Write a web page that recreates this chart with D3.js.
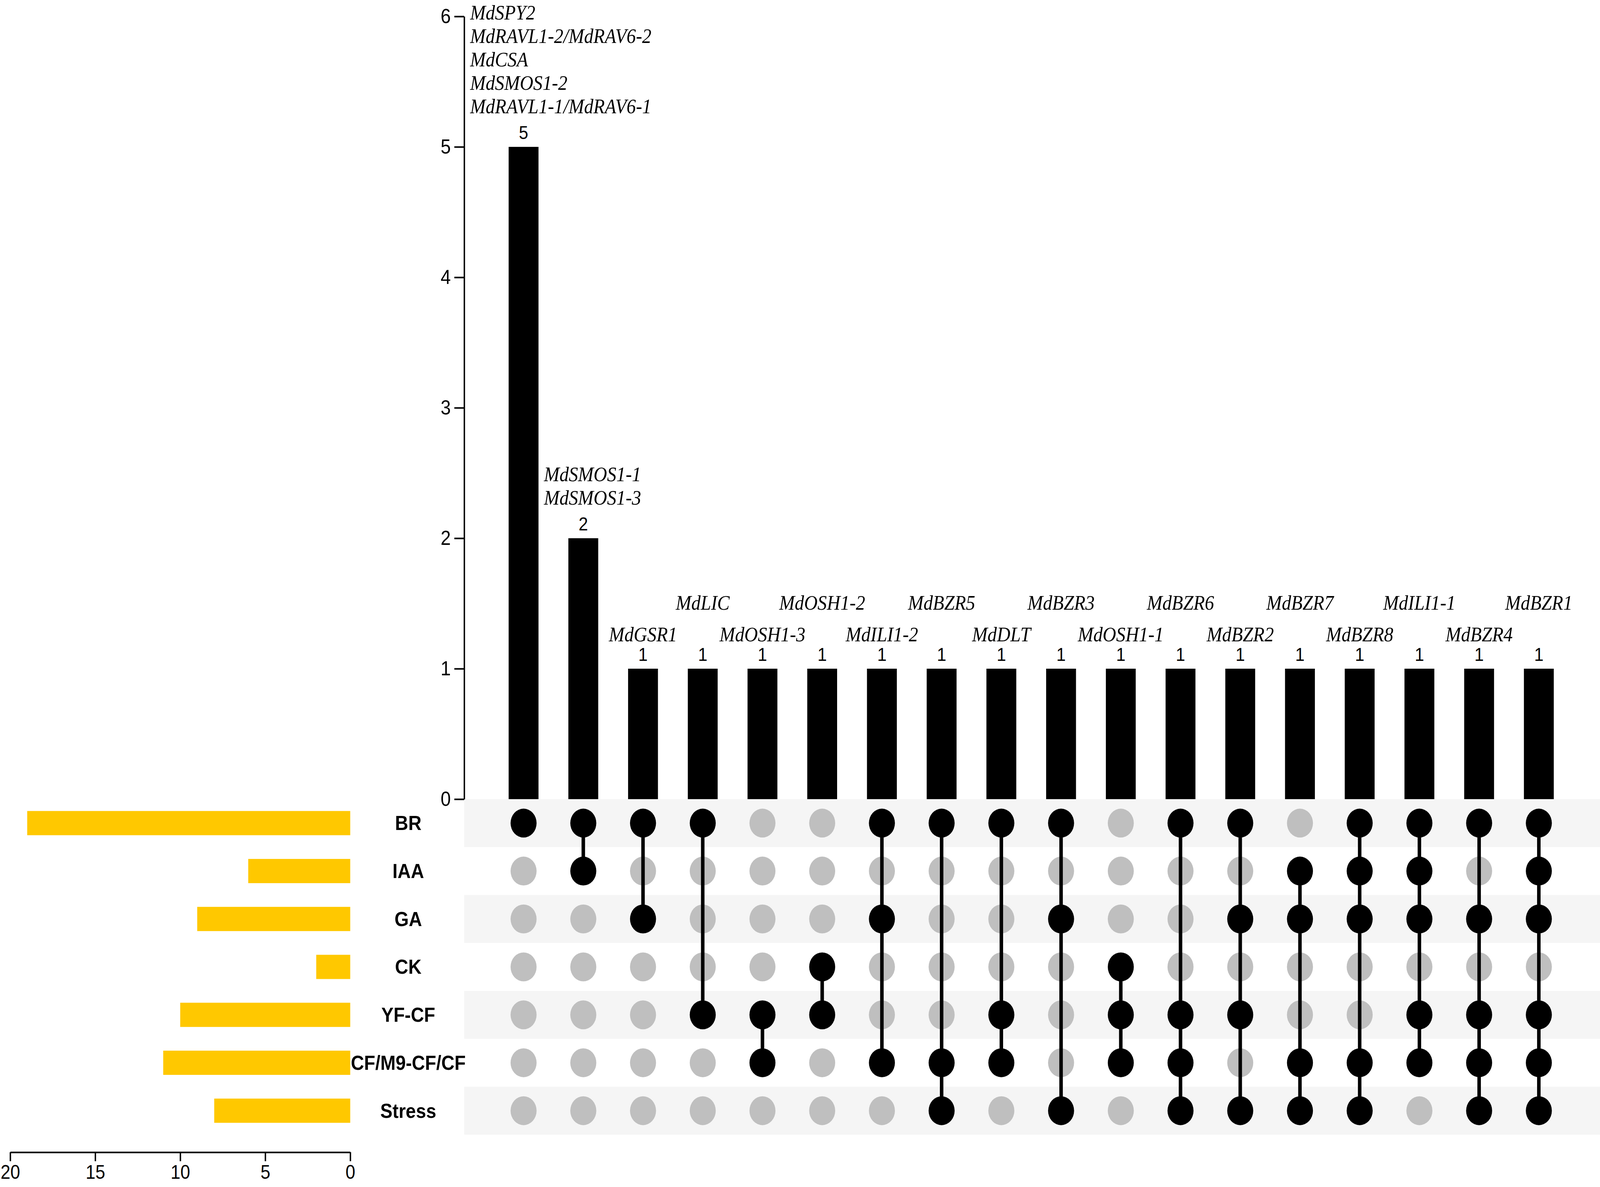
<!DOCTYPE html>
<html>
<head>
<meta charset="utf-8">
<script src="https://cdn.jsdelivr.net/npm/d3@7"></script>
<style>
  html, body { margin: 0; padding: 0; background: #fff; overflow: hidden; }
  svg { display: block; width: 100vw; height: 100vh; }
</style>
</head>
<body>
<div id="chart"></div>
<script>
// Sets (rows of the matrix) and their sizes
const sets = ["BR", "IAA", "GA", "CK", "YF-CF", "CF/M9-CF/CF", "Stress"];
const setSizes = [19, 6, 9, 2, 10, 11, 8];

// Intersections (columns)
const intersectionCounts = [5, 2, 1, 1, 1, 1, 1, 1, 1, 1, 1, 1, 1, 1, 1, 1, 1, 1];
const intersectionSets = [
  ["BR"],
  ["BR", "IAA"],
  ["BR", "GA"],
  ["BR", "YF-CF"],
  ["YF-CF", "CF/M9-CF/CF"],
  ["CK", "YF-CF"],
  ["BR", "GA", "CF/M9-CF/CF"],
  ["BR", "CF/M9-CF/CF", "Stress"],
  ["BR", "YF-CF", "CF/M9-CF/CF"],
  ["BR", "GA", "Stress"],
  ["CK", "YF-CF", "CF/M9-CF/CF"],
  ["BR", "YF-CF", "CF/M9-CF/CF", "Stress"],
  ["BR", "GA", "YF-CF", "Stress"],
  ["IAA", "GA", "CF/M9-CF/CF", "Stress"],
  ["BR", "IAA", "GA", "CF/M9-CF/CF", "Stress"],
  ["BR", "IAA", "GA", "YF-CF", "CF/M9-CF/CF"],
  ["BR", "GA", "YF-CF", "CF/M9-CF/CF", "Stress"],
  ["BR", "IAA", "GA", "YF-CF", "CF/M9-CF/CF", "Stress"]
];
const intersectionGenes = [
  ["MdSPY2", "MdRAVL1-2/MdRAV6-2", "MdCSA", "MdSMOS1-2", "MdRAVL1-1/MdRAV6-1"],
  ["MdSMOS1-1", "MdSMOS1-3"],
  ["MdGSR1"], ["MdLIC"], ["MdOSH1-3"], ["MdOSH1-2"], ["MdILI1-2"], ["MdBZR5"],
  ["MdDLT"], ["MdBZR3"], ["MdOSH1-1"], ["MdBZR6"], ["MdBZR2"], ["MdBZR7"],
  ["MdBZR8"], ["MdILI1-1"], ["MdBZR4"], ["MdBZR1"]
];

// Tick values
const countTicks = [0, 1, 2, 3, 4, 5, 6];
const sizeTicks = [0, 5, 10, 15, 20];

const width = 4550, height = 3039;
const sans = "'Liberation Sans', Arial, sans-serif";
const serif = "'Liberation Serif', 'Times New Roman', serif";

// Drawn in a fixed 4550x3039 frame that is stretched to fill the window
const svg = d3.select("#chart")
  .append("svg")
  .attr("viewBox", `0 0 ${width} ${height}`)
  .attr("preserveAspectRatio", "none");

// Scales
const x = d3.scaleBand()
  .domain(d3.range(intersectionCounts.length))
  .range([1404, 4461])
  .paddingInner(0.5)
  .paddingOuter(0.25);

const y = d3.scaleLinear()
  .domain([0, 6])
  .range([2046, 42]);

const row = d3.scaleBand()
  .domain(sets)
  .range([2046, 2905]);

const size = d3.scaleLinear()
  .domain([0, 20])
  .range([996, 29]);

const cx = i => x(i) + x.bandwidth() / 2;
const cy = s => row(s) + row.bandwidth() / 2;

// Row stripes
svg.append("g")
  .selectAll("rect")
  .data(sets.filter((s, i) => i % 2 === 0))
  .enter()
  .append("rect")
  .attr("x", 1320)
  .attr("y", d => row(d))
  .attr("width", width - 1320)
  .attr("height", row.bandwidth())
  .attr("fill", "#f5f5f5");

// Y axis for intersection sizes
const yAxis = svg.append("g")
  .attr("transform", "translate(1320,0)")
  .call(d3.axisLeft(y).tickValues(countTicks).tickSize(28).tickSizeOuter(0).tickPadding(10).tickFormat(d3.format("d")));
yAxis.selectAll("path, line").attr("stroke", "#000").attr("stroke-width", 4);
yAxis.selectAll("text").attr("font-family", sans).attr("font-size", 52).attr("fill", "#000");

// Intersection bars
svg.append("g")
  .selectAll("rect")
  .data(intersectionCounts)
  .enter()
  .append("rect")
  .attr("x", (d, i) => x(i))
  .attr("y", d => y(d))
  .attr("width", x.bandwidth())
  .attr("height", d => y(0) - y(d))
  .attr("fill", "#000");

// Count labels
svg.append("g")
  .selectAll("text")
  .data(intersectionCounts)
  .enter()
  .append("text")
  .attr("x", (d, i) => cx(i))
  .attr("y", d => y(d) - 20)
  .attr("text-anchor", "middle")
  .attr("font-family", sans)
  .attr("font-size", 48)
  .text(d => d);

// Gene labels
const geneG = svg.append("g")
  .attr("font-family", serif)
  .attr("font-style", "italic")
  .attr("font-size", 53);

intersectionGenes.forEach((genes, i) => {
  const base = y(intersectionCounts[i]) - 20;
  if (genes.length > 1) {
    const dx = i === 0 ? -152 : -112;
    genes.forEach((g, j) => {
      geneG.append("text")
        .attr("x", cx(i) + dx)
        .attr("y", base - 66 - 60 * (genes.length - 1 - j))
        .attr("text-anchor", "start")
        .text(g);
    });
  } else {
    geneG.append("text")
      .attr("x", cx(i))
      .attr("y", base - (i % 2 === 0 ? 50 : 131))
      .attr("text-anchor", "middle")
      .text(genes[0]);
  }
});

// Matrix: grey dots, connecting lines, black dots
const matrix = svg.append("g");
intersectionSets.forEach((members, i) => {
  matrix.selectAll(null)
    .data(sets.filter(s => !members.includes(s)))
    .enter()
    .append("circle")
    .attr("cx", cx(i))
    .attr("cy", d => cy(d))
    .attr("r", 37)
    .attr("fill", "#bfbfbf");
});
intersectionSets.forEach((members, i) => {
  if (members.length > 1) {
    const ys = members.map(cy);
    matrix.append("line")
      .attr("x1", cx(i)).attr("x2", cx(i))
      .attr("y1", d3.min(ys)).attr("y2", d3.max(ys))
      .attr("stroke", "#000")
      .attr("stroke-width", 10);
  }
});
intersectionSets.forEach((members, i) => {
  matrix.selectAll(null)
    .data(members)
    .enter()
    .append("circle")
    .attr("cx", cx(i))
    .attr("cy", d => cy(d))
    .attr("r", 37)
    .attr("fill", "#000");
});

// Set size bars
svg.append("g")
  .selectAll("rect")
  .data(setSizes)
  .enter()
  .append("rect")
  .attr("x", d => size(d))
  .attr("y", (d, i) => cy(sets[i]) - 31)
  .attr("width", d => size(0) - size(d))
  .attr("height", 62)
  .attr("fill", "#ffc800");

// Set labels
svg.append("g")
  .selectAll("text")
  .data(sets)
  .enter()
  .append("text")
  .attr("x", 1161)
  .attr("y", d => cy(d) + 18)
  .attr("text-anchor", "middle")
  .attr("font-family", sans)
  .attr("font-weight", "bold")
  .attr("font-size", 52)
  .text(d => d);

// Set size axis
const sizeAxis = svg.append("g")
  .attr("transform", "translate(0,2950)")
  .call(d3.axisBottom(size).tickValues(sizeTicks).tickSize(23).tickSizeOuter(0).tickPadding(10));
sizeAxis.selectAll("path, line").attr("stroke", "#000").attr("stroke-width", 4);
sizeAxis.selectAll("text").attr("font-family", sans).attr("font-size", 50).attr("fill", "#000");
</script>
</body>
</html>
